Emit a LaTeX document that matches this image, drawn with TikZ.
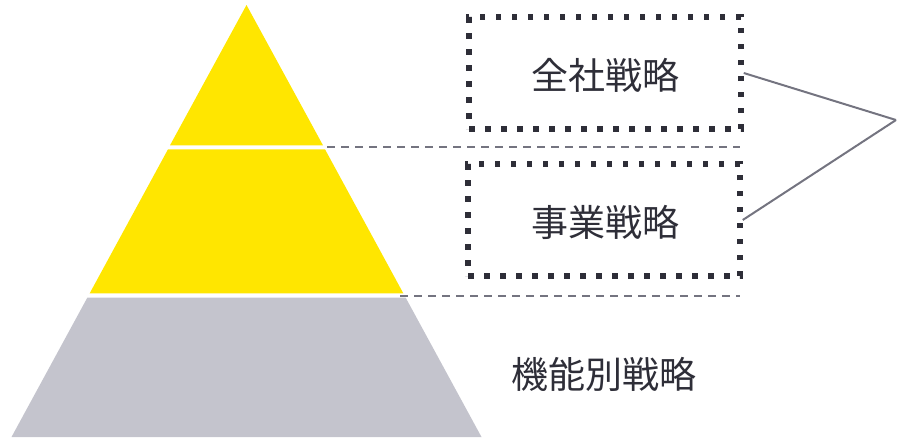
\documentclass[tikz,border=0pt]{standalone}
\usepackage{fontspec}
\newfontfamily\cjk{Noto Sans CJK JP}
\definecolor{eyyellow}{HTML}{FFE600}
\definecolor{eygray}{HTML}{C4C4CD}
\definecolor{eydark}{HTML}{2E2E38}
\definecolor{eyline}{HTML}{747480}
\begin{document}
\begin{tikzpicture}[x=1pt,y=-1pt,
  dotbox/.style={draw=eydark, line width=5.5pt, dash pattern=on 5.5pt off 10.5pt, minimum width=272pt, minimum height=112pt, inner sep=0pt},
  lbl/.style={font=\cjk\fontsize{37}{44}\selectfont, text=eydark},
  guide/.style={draw=eyline, line width=2pt, dash pattern=on 8pt off 6pt},
  conn/.style={draw=eyline, line width=2pt}]
\useasboundingbox (0,0) rectangle (897,437);
% pyramid
\fill[eyyellow] (246.5,5) -- (323,145.3) -- (170,145.3) -- cycle;
\fill[eyyellow] (168,149.3) -- (325,149.3) -- (403.3,293.3) -- (89.7,293.3) -- cycle;
\fill[eygray] (87.3,297.7) -- (405.7,297.7) -- (481.5,437) -- (11.5,437) -- cycle;
% guides
\coordinate (g1a) at (327,147);
\coordinate (g1b) at (740,147);
\coordinate (g2a) at (400,295.5);
\coordinate (g2b) at (740,295.5);
\draw[guide] (g1a) -- (g1b);
\draw[guide] (g2a) -- (g2b);
% boxes
\node[dotbox] (b1) at (605,73) {};
\node[dotbox] (b2) at (604,220) {};
\node[lbl] (t1) at (605,75) {全社戦略};
\node[lbl] (t2) at (605,222) {事業戦略};
\node[lbl] (t3) at (604,374) {機能別戦略};
\coordinate (tip) at (896,120);
\draw[conn] (b1.east) -- (tip);
\draw[conn] (b2.east) -- (tip);
\end{tikzpicture}
\end{document}
